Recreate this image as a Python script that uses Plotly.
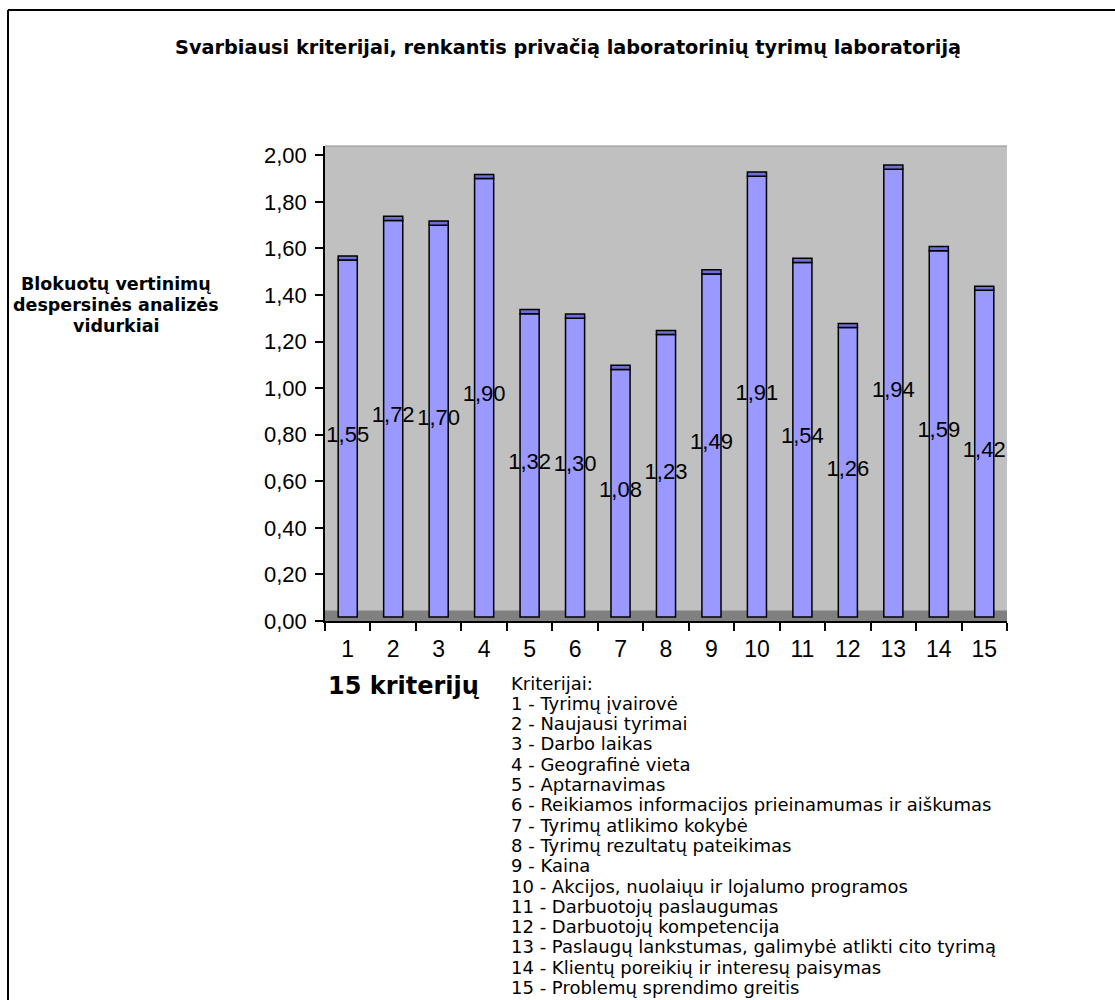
import plotly.graph_objects as go

# Mean scores of the blocked ratings per criterion
criteria = [str(i) for i in range(1, 16)]
means = [1.55, 1.72, 1.70, 1.90, 1.32, 1.30, 1.08, 1.23, 1.49, 1.91, 1.54, 1.26, 1.94, 1.59, 1.42]
criteria_names = [
    "Tyrimų įvairovė",
    "Naujausi tyrimai",
    "Darbo laikas",
    "Geografinė vieta",
    "Aptarnavimas",
    "Reikiamos informacijos prieinamumas ir aiškumas",
    "Tyrimų atlikimo kokybė",
    "Tyrimų rezultatų pateikimas",
    "Kaina",
    "Akcijos, nuolaiųu ir lojalumo programos",
    "Darbuotojų paslaugumas",
    "Darbuotojų kompetencija",
    "Paslaugų lankstumas, galimybė atlikti cito tyrimą",
    "Klientų poreikių ir interesų paisymas",
    "Problemų sprendimo greitis",
]
y_ticks = [0, 0.2, 0.4, 0.6, 0.8, 1.0, 1.2, 1.4, 1.6, 1.8, 2.0]
y_title_lines = ["Blokuotų vertinimų", "despersinės analizės", "vidurkiai"]

FONT = "Liberation Sans, Arial, sans-serif"
WIDE = "DejaVu Sans, Verdana, sans-serif"
W, H = 1115, 1000
# plot area in page pixels
X0, X1 = 325, 1007
Y0, Y1 = 146, 621

BASE = 0.017   # columns stand slightly above the axis, on the floor
CAP = 0.018    # depth of the column top face
FLOOR = 0.045  # height of the floor band


def px(x):
    return (x - X0) / (X1 - X0)


def py(y):
    return (Y1 - y) / (Y1 - Y0)


def fmt(v):
    return f"{v:.2f}".replace(".", ",")


fig = go.Figure()

# front faces of the columns
fig.add_trace(go.Bar(
    x=criteria, y=[v - BASE for v in means], base=BASE,
    width=0.42, marker=dict(color="#9999FF", line=dict(color="black", width=1.5)),
    hoverinfo="skip", showlegend=False,
))
# top faces of the columns
fig.add_trace(go.Bar(
    x=criteria, y=[CAP] * len(means), base=means,
    width=0.42, marker=dict(color="#6E6ED8", line=dict(color="black", width=1.5)),
    hoverinfo="skip", showlegend=False,
))
# value labels in the middle of each column
fig.add_trace(go.Scatter(
    x=criteria, y=[(v + CAP + BASE) / 2 for v in means],
    mode="text", text=[fmt(v) for v in means],
    textfont=dict(family=FONT, size=22, color="black"),
    hoverinfo="skip", showlegend=False, cliponaxis=False,
))

shapes = [
    # floor
    dict(type="rect", xref="paper", yref="y", x0=0, x1=1, y0=0, y1=FLOOR,
         fillcolor="#808080", line=dict(width=0), layer="below"),
    # outer frame
    dict(type="line", xref="paper", yref="paper", x0=px(8), x1=px(W + 5), y0=py(10), y1=py(10),
         line=dict(color="black", width=2)),
    dict(type="line", xref="paper", yref="paper", x0=px(8), x1=px(8), y0=py(10), y1=py(H + 5),
         line=dict(color="black", width=2)),
    # top edge of the back wall
    dict(type="line", xref="paper", yref="paper", x0=0, x1=1, y0=1, y1=1,
         line=dict(color="#909090", width=1)),
]

annotations = [
    dict(text="<b>Svarbiausi kriterijai, renkantis privačią laboratorinių tyrimų laboratoriją</b>",
         x=px(568), y=py(47), xref="paper", yref="paper", showarrow=False,
         xanchor="center", yanchor="middle", font=dict(family=WIDE, size=19.3, color="black")),
    dict(text="<b>15 kriterijų</b>",
         x=px(404), y=py(686), xref="paper", yref="paper", showarrow=False,
         xanchor="center", yanchor="middle", font=dict(family=WIDE, size=24, color="black")),
]

for i, line in enumerate(y_title_lines):
    annotations.append(dict(
        text=f"<b>{line}</b>", x=px(116), y=py(284 + 21 * i), xref="paper", yref="paper",
        showarrow=False, xanchor="center", yanchor="middle",
        font=dict(family=WIDE, size=17.5, color="black"),
    ))

legend_lines = ["Kriterijai:"] + [f"{c} - {n}" for c, n in zip(criteria, criteria_names)]
for i, line in enumerate(legend_lines):
    annotations.append(dict(
        text=line, x=px(509), y=py(683 + 20.3 * i), xref="paper", yref="paper",
        showarrow=False, xanchor="left", yanchor="middle",
        font=dict(family=WIDE, size=18, color="black"),
    ))

fig.update_layout(
    width=W, height=H,
    margin=dict(l=X0, r=W - X1, t=Y0, b=H - Y1, pad=0),
    paper_bgcolor="white", plot_bgcolor="#C0C0C0",
    separators=", ",
    barmode="overlay",
    font=dict(family=FONT, size=22, color="black"),
    shapes=shapes, annotations=annotations,
    xaxis=dict(
        type="category", range=[-0.5, 14.5], tickson="boundaries",
        ticks="outside", ticklen=8, tickcolor="black", tickwidth=1.5,
        showline=True, linecolor="black", linewidth=1.5, showgrid=False,
        ticklabelstandoff=7,
        tickfont=dict(family=FONT, size=23, color="black"), fixedrange=True,
    ),
    yaxis=dict(
        range=[0, 2.04], tickvals=y_ticks, tickformat=".2f",
        ticks="outside", ticklen=8, tickcolor="black", tickwidth=1.5,
        showline=True, linecolor="black", linewidth=1.5, showgrid=False, zeroline=False,
        ticklabelstandoff=4,
        tickfont=dict(family=FONT, size=22, color="black"), fixedrange=True,
    ),
)

fig.write_html("out.html", config={"displayModeBar": False})
